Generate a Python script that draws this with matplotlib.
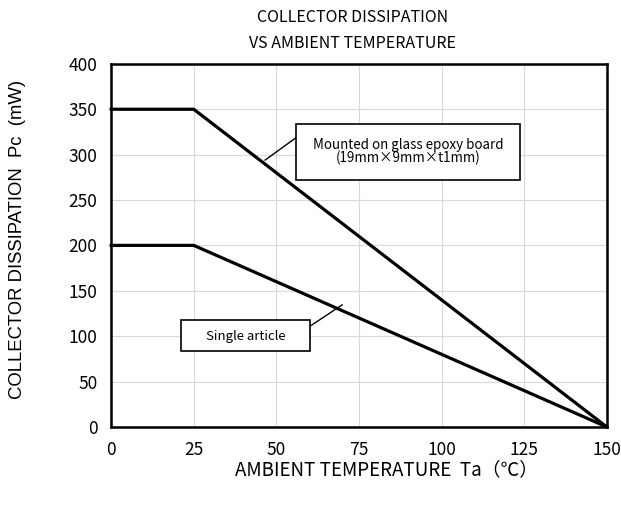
import matplotlib.pyplot as plt

plt.rcParams['font.family'] = ['Noto Sans CJK JP', 'DejaVu Sans']

# derating curves
ta = [0, 25, 150]
pc_board = [350, 350, 0]
pc_single = [200, 200, 0]

xticks = [0, 25, 50, 75, 100, 125, 150]
yticks = [0, 50, 100, 150, 200, 250, 300, 350, 400]

fig = plt.figure(figsize=(6.21, 5.07), dpi=100)
ax = fig.add_axes([0.179, 0.158, 0.798, 0.716])

ax.plot(ta, pc_board, color='black', lw=2.3, clip_on=False, zorder=3)
ax.plot(ta, pc_single, color='black', lw=2.3, clip_on=False, zorder=3)

ax.set_xlim(0, 150)
ax.set_ylim(0, 400)
ax.set_xticks(xticks)
ax.set_yticks(yticks)
ax.grid(True, color='#d9d9d9', lw=0.8)
ax.set_axisbelow(True)
ax.tick_params(length=0, labelsize=12.5, pad=10)
for s in ax.spines.values():
    s.set_linewidth(1.8)

# annotations
ax.plot([55.9, 46.6], [318.5, 294], color='black', lw=1)
ax.add_patch(plt.Rectangle((55.9, 272.2), 67.8, 61.7, fill=True, fc='white',
                           ec='black', lw=1.2, zorder=4))
ax.text(89.8, 303, 'Mounted on glass epoxy board\n(19mm×9mm×t1mm)', ha='center',
        va='center', fontsize=9.6, linespacing=0.85, zorder=5)

ax.plot([60.2, 69.9], [111, 134.4], color='black', lw=1)
ax.add_patch(plt.Rectangle((21.2, 83.7), 39, 34.2, fill=True, fc='white',
                           ec='black', lw=1.2, zorder=4))
ax.text(40.7, 100, 'Single article', ha='center', va='center', fontsize=9.5, zorder=5)

fig.text(0.567, 0.965, 'COLLECTOR DISSIPATION', ha='center', va='center', fontsize=11.5)
fig.text(0.567, 0.915, 'VS AMBIENT TEMPERATURE', ha='center', va='center', fontsize=11.5)
fig.text(0.622, 0.073, 'AMBIENT TEMPERATURE  Ta（℃）', ha='center', va='center', fontsize=13.5)
fig.text(0.028, 0.527, 'COLLECTOR DISSIPATION  Pc  (mW)', ha='center', va='center',
         rotation=90, fontsize=13.3, family=['Liberation Sans', 'Noto Sans CJK JP'])

fig.savefig('out.png', dpi=100)
